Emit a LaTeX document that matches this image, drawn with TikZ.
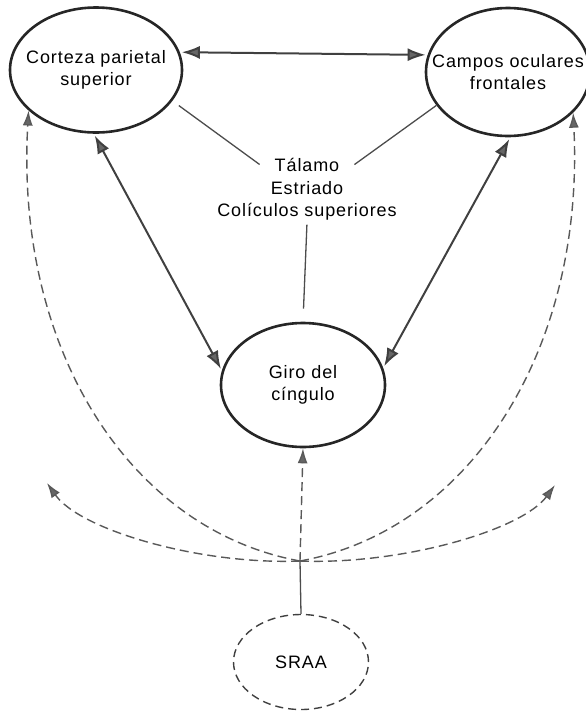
\documentclass[tikz,border=0pt]{standalone}
\usepackage{fontspec}
\setmainfont{Liberation Sans}[LetterSpace=5]
\usepackage{tikz}
\usetikzlibrary{arrows.meta,shapes.geometric,positioning}

\begin{document}
\begin{tikzpicture}[x=1pt,y=-1pt,>={Latex[length=18pt,width=13pt,fill=black!60]},
          font=\fontsize{18}{22}\selectfont]
            \tikzstyle{area}=[ellipse, draw=black!85, line width=2.6pt, inner sep=0pt]
            \tikzstyle{lbl}=[align=center, inner sep=2pt]
            \tikzstyle{link}=[<->, draw=black!75, line width=2pt, shorten <=2pt, shorten >=2pt]
            \tikzstyle{tie}=[draw=black!70, line width=1.3pt]
            \tikzstyle{proj}=[->, draw=black!65, line width=1.4pt, dash pattern=on 9pt off 5pt,
                              >={Latex[length=15pt,width=10pt,fill=black!60]}]
            \useasboundingbox (0,0) rectangle (586,713);
            \node[area, minimum width=172pt, minimum height=125pt] (cps) at (96,70) {};
            \node[lbl] (cpsT) at (cps) {Corteza parietal\\superior};
            \node[area, minimum width=164pt, minimum height=128pt] (cpf) at (508,72) {};
            \node[lbl] (cpfT) at (cpf) {Campos oculares\\frontales};
            \node[area, minimum width=164pt, minimum height=124pt] (gdc) at (303,385) {};
            \node[lbl] (gdcT) at (gdc) {Giro del\\cíngulo};
            \node[area, draw=black!75, line width=1.4pt, dash pattern=on 8pt off 5pt,
                  minimum width=135pt, minimum height=95pt] (sraa) at (301,662) {};
            \node[lbl] (sraaT) at (sraa) {SRAA};
            \node[lbl] (tal) at (307,165) {Tálamo};
            \node[lbl] (est) at (307,188) {Estriado};
            \node[lbl] (col) at (307,212) {Colículos superiores};
            \coordinate (hub) at (300,561);
            \coordinate (lhead) at (47,483);
            \coordinate (rhead) at (555,485);
            \path (cps.12) edge [link] (cpf.168)
                  (cps.-92) edge [link] (gdc.170)
                  (cpf.-88) edge [link] (gdc.12);
            \path (cps.-22) edge [tie, shorten <=8pt, shorten >=16pt] (tal.south west)
                  (cpf.205) edge [tie, shorten >=16pt] (tal.south east)
                  (col.south) edge [tie, shorten <=2pt, shorten >=13pt] (gdc.north)
                  (sraa.north) edge [tie] (hub);
            \draw[proj] (hub) -- (gdc.south);
            \draw[proj] (hub) .. controls (130,530) and (15,350) .. (cps.211);
            \draw[proj] (hub) .. controls (470,530) and (585,350) .. (cpf.-32);
            \draw[proj] (hub) .. controls (200,565) and (80,530) .. (lhead);
            \draw[proj] (hub) .. controls (402,565) and (522,530) .. (rhead);
        \end{tikzpicture}
\end{document}
